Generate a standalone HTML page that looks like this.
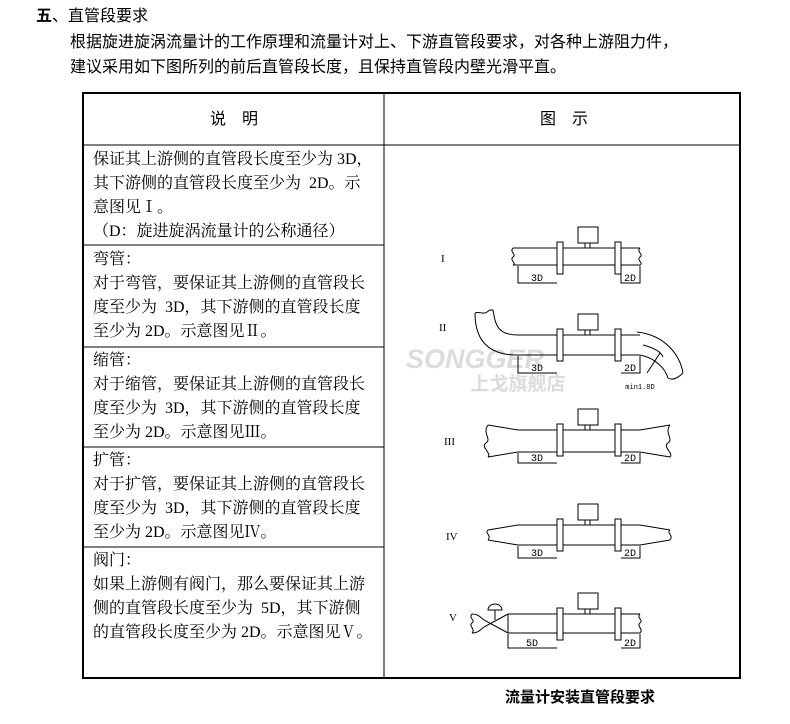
<!DOCTYPE html>
<html><head><meta charset="utf-8"><style>
body{margin:0;width:790px;height:724px;background:#fff;position:relative;overflow:hidden;font-family:"Liberation Serif","Noto Serif CJK SC","Noto Sans CJK SC",serif;color:#000}
.t{position:absolute;font-size:16px;white-space:nowrap;line-height:20px}
.c{font-family:"Liberation Sans","Noto Sans CJK SC",sans-serif}
</style></head><body>
<div class="t c" style="left:36px;top:7px;font-size:16px"><b>五</b>、直管段要求</div>
<div class="t c" style="left:70px;top:33px">根据旋进旋涡流量计的工作原理和流量计对上、下游直管段要求，对各种上游阻力件，</div>
<div class="t c" style="left:70px;top:58px">建议采用如下图所列的前后直管段长度，且保持直管段内壁光滑平直。</div>

<svg width="790" height="724" style="position:absolute;left:0;top:0" xmlns="http://www.w3.org/2000/svg">
<rect x="83" y="93" width="657" height="585" fill="none" stroke="#000" stroke-width="2"/>
<g stroke="#000" stroke-width="1">
<line x1="384" y1="93" x2="384" y2="678"/>
<line x1="83" y1="145" x2="740" y2="145"/>
<line x1="83" y1="245" x2="384" y2="245"/>
<line x1="83" y1="347" x2="384" y2="347"/>
<line x1="83" y1="447" x2="384" y2="447"/>
<line x1="83" y1="547" x2="384" y2="547"/>
</g>
<text x="475" y="368" font-family="Liberation Sans,sans-serif" font-weight="bold" font-style="italic" font-size="27" fill="#dcdcdc" text-anchor="middle">SONGGER</text>
<text x="518" y="390" font-family="Noto Sans CJK SC,sans-serif" font-weight="bold" font-size="19" fill="#dcdcdc" text-anchor="middle">上戈旗舰店</text>
<g fill="none" stroke="#000" stroke-width="1">
<!-- I -->
<path d="M513 248H640M513 265H640"/>
<path d="M513 248c-4 4 4 6 0 9s4 6 0 8M640 248c-4 4 4 6 0 9s4 6 0 8"/>
<!-- II -->
<path d="M517 335H640M517 355H640"/>
<path d="M517 335C495 335 495 320 493 310M517 355C480 355 475 330 475 313"/>
<path d="M475 313c5-2 8 2 12-1s4-2 6-2"/>
<path d="M637 332C665 335 680 355 683 373M640 355C655 358 665 368 668 378"/>
<path d="M668 378c5 3 10 0 15-5"/>
<path d="M643 345C655 348 661 352 663 357M660 353L647 373"/>
<!-- III -->
<path d="M518 430H640l30-5M518 452H640l30 5M518 430l-30-5M518 452l-30 5"/>
<path d="M488 425c-6 8 4 14-2 18s6 10 2 14M670 425c-6 8 4 14-2 18s6 10 2 14"/>
<!-- IV -->
<path d="M518 525H640l30 5M518 545H640l30-5M518 525l-30 5M518 545l-30-5"/>
<path d="M488 530c-4 3 4 5 0 10M670 530c-4 3 4 5 0 10"/>
<!-- V -->
<path d="M508 614H640M508 633H640M508 614V633"/>
<path d="M640 614c-4 4 4 6 0 9s4 6 0 10"/>
<path d="M472 614c-4 4 4 6 0 9s4 6 0 10M472 614c6 0 8 3 12 6l24 13M472 633c6 0 8-3 12-6l24-13"/>
<path d="M495 620V610M488 610a7 6 0 0 1 14 0z"/>
</g>
<g fill="#fff" stroke="#000" stroke-width="1">
<g id="m"><rect x="578" y="227" width="20" height="16"/><rect x="585" y="243" width="5" height="5"/><rect x="557" y="242" width="6" height="32"/><rect x="615" y="242" width="6" height="32"/></g>
<use href="#m" y="87"/><use href="#m" y="182"/><use href="#m" y="277"/><use href="#m" y="366"/>
</g>
<g stroke="#000" stroke-width="1" fill="none">
<path d="M518 266V283H557M621 266V283H640V266"/>
<path d="M518 356V373H557M621 373H640V356"/>
<path d="M518 453V463H557M621 463H640V453"/>
<path d="M518 546V558H557M621 558H640V546"/>
<path d="M508 634V648H557M621 648H640V634"/>
</g>
<g font-family="Liberation Mono,monospace" font-size="10" text-anchor="middle">
<text x="537" y="281">3D</text><text x="630" y="281">2D</text>
<text x="537" y="371">3D</text><text x="630" y="371">2D</text>
<text x="537" y="461">3D</text><text x="630" y="461">2D</text>
<text x="537" y="556">3D</text><text x="630" y="556">2D</text>
<text x="532" y="646">5D</text><text x="630" y="646">2D</text>
<text x="640" y="389" font-size="7">min1.8D</text>
</g>
<g font-family="Liberation Serif,serif" font-size="11">
<text x="441" y="262">I</text><text x="439" y="331">II</text><text x="444" y="445">III</text><text x="446" y="540">IV</text><text x="449" y="621">V</text>
</g>
</svg>

<div class="t c" style="left:210px;top:110px">说　明</div>
<div class="t c" style="left:540px;top:110px">图　示</div>

<div class="t" style="left:93px;top:150px">保证其上游侧的直管段长度至少为 3D，</div>
<div class="t" style="left:93px;top:174px">其下游侧的直管段长度至少为 &nbsp;2D。示</div>
<div class="t" style="left:93px;top:198px">意图见Ⅰ。</div>
<div class="t" style="left:93px;top:222px">（D：旋进旋涡流量计的公称通径）</div>

<div class="t" style="left:93px;top:250px">弯管：</div>
<div class="t" style="left:93px;top:274px">对于弯管，要保证其上游侧的直管段长</div>
<div class="t" style="left:93px;top:298px">度至少为 &nbsp;3D，其下游侧的直管段长度</div>
<div class="t" style="left:93px;top:322px">至少为 2D。示意图见Ⅱ。</div>

<div class="t" style="left:93px;top:351px">缩管：</div>
<div class="t" style="left:93px;top:375px">对于缩管，要保证其上游侧的直管段长</div>
<div class="t" style="left:93px;top:399px">度至少为 &nbsp;3D，其下游侧的直管段长度</div>
<div class="t" style="left:93px;top:423px">至少为 2D。示意图见Ⅲ。</div>

<div class="t" style="left:93px;top:451px">扩管：</div>
<div class="t" style="left:93px;top:475px">对于扩管，要保证其上游侧的直管段长</div>
<div class="t" style="left:93px;top:499px">度至少为 &nbsp;3D，其下游侧的直管段长度</div>
<div class="t" style="left:93px;top:523px">至少为 2D。示意图见Ⅳ。</div>

<div class="t" style="left:93px;top:551px">阀门：</div>
<div class="t" style="left:93px;top:575px">如果上游侧有阀门，那么要保证其上游</div>
<div class="t" style="left:93px;top:599px">侧的直管段长度至少为 &nbsp;5D，其下游侧</div>
<div class="t" style="left:93px;top:623px">的直管段长度至少为 2D。示意图见Ⅴ。</div>

<div class="t c" style="left:505px;top:688px;font-size:15px;font-weight:bold">流量计安装直管段要求</div>
</body></html>
